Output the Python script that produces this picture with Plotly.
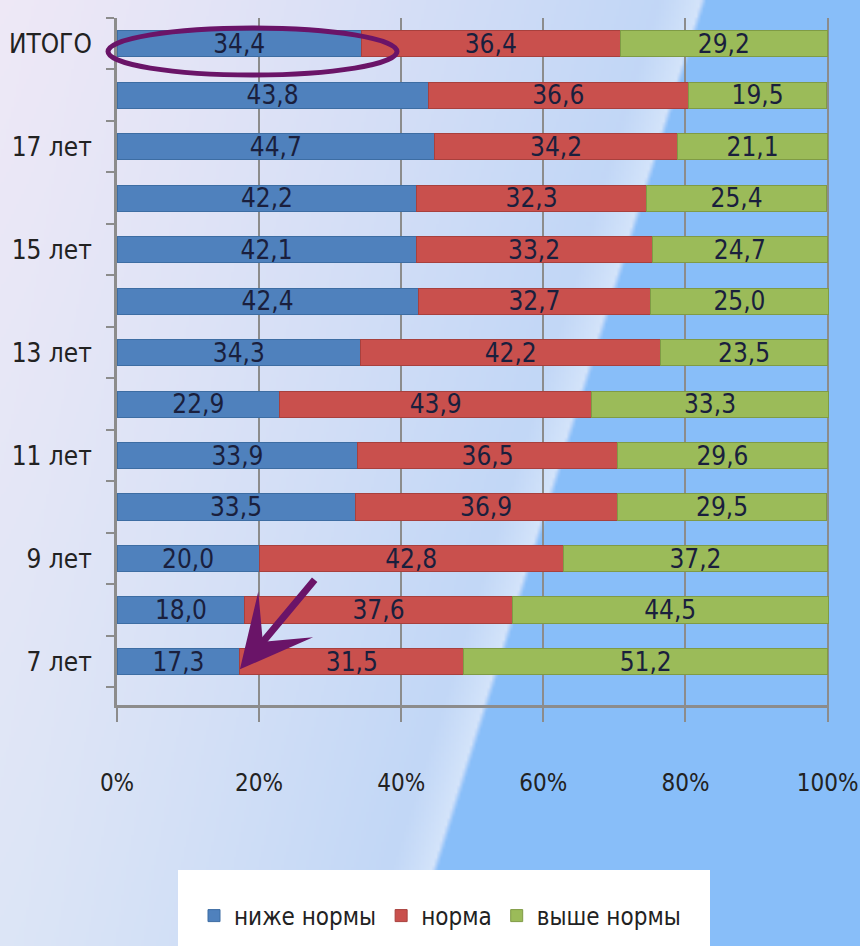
import base64
import struct
import zlib

import plotly.graph_objects as go

# ---------------- data ----------------
categories = ["7 лет", "8 лет", "9 лет", "10 лет", "11 лет", "12 лет", "13 лет",
              "14 лет", "15 лет", "16 лет", "17 лет", "18 лет", "ИТОГО"]
tick_text = ["7 лет", "", "9 лет", "", "11 лет", "", "13 лет",
             "", "15 лет", "", "17 лет", "", "ИТОГО"]
below_norm = [17.3, 18.0, 20.0, 33.5, 33.9, 22.9, 34.3, 42.4, 42.1, 42.2, 44.7, 43.8, 34.4]
norm = [31.5, 37.6, 42.8, 36.9, 36.5, 43.9, 42.2, 32.7, 33.2, 32.3, 34.2, 36.6, 36.4]
above_norm = [51.2, 44.5, 37.2, 29.5, 29.6, 33.3, 23.5, 25.0, 24.7, 25.4, 21.1, 19.5, 29.2]
series_names = ["ниже нормы", "норма", "выше нормы"]
x_ticks = [0, 20, 40, 60, 80, 100]
x_tick_text = ["0%", "20%", "40%", "60%", "80%", "100%"]

# ---------------- background gradient (generated PNG) ----------------
def lerp(a, b, t):
    t = max(0.0, min(1.0, t))
    return tuple(a[i] + (b[i] - a[i]) * t for i in range(3))

RIGHT = (136, 190, 249)

def bg_color(u, v):
    left = lerp((238, 232, 246), (220, 229, 246), v)
    L = 0.816 - 0.34 * v
    if u < L:
        c = lerp(left, (190, 213, 246), (u / L) ** 1.2)
        d = (L - u) / 0.05
        if d < 1:
            c = lerp((212, 228, 250), c, d)
    else:
        c = RIGHT
    e = (u - L) / 0.006
    if 0 <= e < 1:
        c = lerp((205, 222, 249), RIGHT, e)
    return tuple(int(round(x)) for x in c)

W, H = 344, 378
raw = bytearray()
for j in range(H):
    raw.append(0)
    for i in range(W):
        raw.extend(bg_color(i / (W - 1), j / (H - 1)))

def chunk(tag, data):
    c = struct.pack(">I", len(data)) + tag + data
    return c + struct.pack(">I", zlib.crc32(tag + data) & 0xFFFFFFFF)

png = b"\x89PNG\r\n\x1a\n" + chunk(b"IHDR", struct.pack(">IIBBBBB", W, H, 8, 2, 0, 0, 0)) \
    + chunk(b"IDAT", zlib.compress(bytes(raw), 9)) + chunk(b"IEND", b"")
bg_uri = "data:image/png;base64," + base64.b64encode(png).decode()

# ---------------- figure ----------------
FONT = "Liberation Sans Narrow, Arial Narrow, DejaVu Sans Condensed, sans-serif"
colors = ["#4f81bd", "#c9504d", "#9bbb59"]
lines = ["#3d6da3", "#a8403d", "#7f9b45"]

fig = go.Figure()
for name, vals, col, lc in zip(series_names, [below_norm, norm, above_norm], colors, lines):
    fig.add_trace(go.Bar(
        y=categories, x=vals, name=name, orientation="h",
        marker=dict(color=col, line=dict(color=lc, width=1)),
        text=[f"{v:.1f}".replace(".", ",") for v in vals],
        textposition="inside", insidetextanchor="middle",
        constraintext="none", cliponaxis=False,
        textfont=dict(family=FONT, size=26, color="#1a1f3d"),
    ))

ML, MR, MT, MB = 117, 31, 18, 241
PW, PH = 860 - ML - MR, 946 - MT - MB

def px_x(x):
    return (x - ML) / PW

def px_y(y):
    return (946 - MB - y) / PH

fig.update_layout(
    width=860, height=946,
    margin=dict(l=ML, r=MR, t=MT, b=MB, autoexpand=False),
    barmode="stack", bargap=0.49,
    paper_bgcolor="#c8dcf4", plot_bgcolor="rgba(0,0,0,0)",
    font=dict(family=FONT, color="#222222"),
    images=[dict(source=bg_uri, xref="paper", yref="paper",
                 x=px_x(0), y=px_y(0), sizex=860 / PW, sizey=946 / PH,
                 sizing="stretch", layer="below", xanchor="left", yanchor="top")],
    legend=dict(orientation="h", x=px_x(440), y=px_y(916), xanchor="center", yanchor="middle",
                bgcolor="rgba(0,0,0,0)", font=dict(family=FONT, size=24, color="#222222"),
                traceorder="normal", itemwidth=30),
    showlegend=True,
)

fig.update_xaxes(
    range=[0, 100.2], tickmode="array", tickvals=x_ticks, ticktext=x_tick_text,
    showgrid=True, gridcolor="#8c8c8c", gridwidth=1.5,
    showline=True, linecolor="#8c8c8c", linewidth=3,
    ticks="outside", ticklen=14, tickcolor="#8c8c8c", tickwidth=2,
    ticklabelstandoff=40, zeroline=False, automargin=False,
    tickfont=dict(family=FONT, size=24, color="#222222"),
)
fig.update_yaxes(
    type="category", categoryorder="array", categoryarray=categories,
    tickmode="array", tickvals=categories, ticktext=tick_text,
    tickson="boundaries", ticks="outside", ticklen=8, tickcolor="#8c8c8c", tickwidth=2,
    showline=True, linecolor="#8c8c8c", linewidth=3,
    ticklabelstandoff=17, showgrid=False, automargin=False,
    tickfont=dict(family=FONT, size=26, color="#222222"),
)

# white legend panel
fig.add_shape(type="rect", xref="paper", yref="paper",
              x0=px_x(178), x1=px_x(710), y0=px_y(960), y1=px_y(870),
              fillcolor="white", line=dict(width=0), layer="below")

# purple ellipse around the ИТОГО "ниже нормы" value
fig.add_shape(type="circle", xref="paper", yref="paper",
              x0=px_x(108), x1=px_x(397), y0=px_y(75), y1=px_y(28),
              line=dict(color="#6a1468", width=5), fillcolor="rgba(0,0,0,0)")

# purple arrow pointing at 7 лет "ниже нормы" end
fig.add_annotation(x=below_norm[0], y=-0.15, xref="x", yref="y",
                   text="", showarrow=True, ax=76, ay=-91,
                   arrowhead=3, arrowsize=1.7, arrowwidth=7, arrowcolor="#6a1468")

fig.write_html("out.html",
               config={"displayModeBar": False},
               post_script="document.body.style.margin='0';document.body.style.overflow='hidden';")
